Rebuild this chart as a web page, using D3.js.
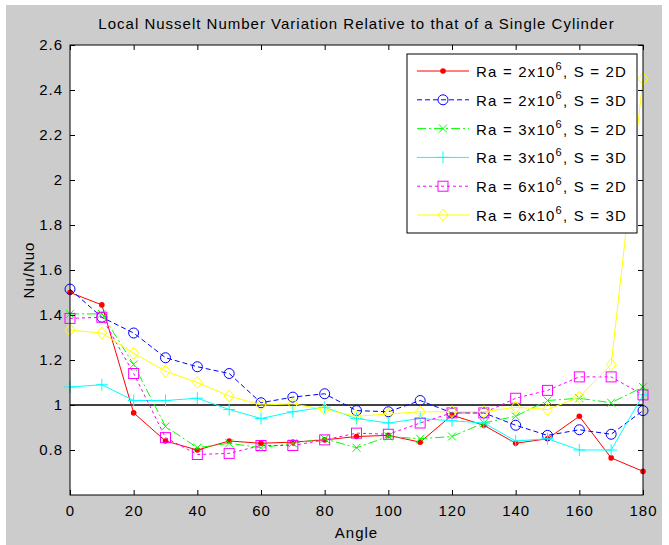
<!DOCTYPE html>
<html>
<head>
<meta charset="utf-8">
<script src="https://cdn.jsdelivr.net/npm/d3@7"></script>
<style>
  body { margin: 0; background: #fff; }
  svg { display: block; font-family: "Liberation Sans", Arial, sans-serif; }
</style>
</head>
<body>
<div id="chart"></div>
<script>
const angles = [0, 10, 20, 30, 40, 50, 60, 70, 80, 90, 100, 110, 120, 130, 140, 150, 160, 170, 180];

const ra2_s2 = [1.50, 1.445, 0.965, 0.84, 0.80, 0.84, 0.83, 0.835, 0.845, 0.86, 0.865, 0.835, 0.955, 0.91, 0.83, 0.85, 0.95, 0.765, 0.705];
const ra2_s3 = [1.515, 1.39, 1.32, 1.21, 1.17, 1.14, 1.01, 1.035, 1.05, 0.975, 0.97, 1.02, 0.965, 0.965, 0.91, 0.865, 0.89, 0.87, 0.975];
const ra3_s2 = [1.405, 1.405, 1.18, 0.905, 0.81, 0.83, 0.81, 0.83, 0.85, 0.81, 0.86, 0.85, 0.86, 0.92, 0.95, 1.02, 1.03, 1.01, 1.08];
const ra3_s3 = [1.08, 1.09, 1.02, 1.02, 1.03, 0.98, 0.94, 0.97, 0.99, 0.94, 0.92, 0.94, 0.93, 0.92, 0.84, 0.85, 0.80, 0.80, 1.045];
const ra6_s2 = [1.385, 1.39, 1.14, 0.855, 0.78, 0.785, 0.82, 0.82, 0.845, 0.875, 0.87, 0.92, 0.965, 0.965, 1.03, 1.065, 1.125, 1.125, 1.045];
const ra6_s3 = [1.333, 1.32, 1.23, 1.15, 1.10, 1.04, 1.00, 1.005, 0.98, 0.95, 0.96, 0.97, 0.97, 0.97, 0.99, 0.98, 1.035, 1.18, 2.45];

const xTicks = [0, 20, 40, 60, 80, 100, 120, 140, 160, 180];
const yTicks = [0.8, 1, 1.2, 1.4, 1.6, 1.8, 2, 2.2, 2.4, 2.6];

const series = [
  { ra: "2", s: "2D", values: ra2_s2, color: "#ff0000", dash: null, marker: "dot" },
  { ra: "2", s: "3D", values: ra2_s3, color: "#0000ff", dash: "5,3", marker: "circle" },
  { ra: "3", s: "2D", values: ra3_s2, color: "#00ff00", dash: "9,3,2,3", marker: "x" },
  { ra: "3", s: "3D", values: ra3_s3, color: "#00ffff", dash: null, marker: "plus" },
  { ra: "6", s: "2D", values: ra6_s2, color: "#ff00ff", dash: "3,3", marker: "square" },
  { ra: "6", s: "3D", values: ra6_s3, color: "#ffff00", dash: null, marker: "diamond" }
];

const W = 669, H = 545;
const margin = { top: 45, right: 26, bottom: 50, left: 70 };
const width = W - margin.left - margin.right;
const height = H - margin.top - margin.bottom;

const svg = d3.select("#chart").append("svg")
  .attr("width", W)
  .attr("height", H);

// grey figure background
svg.append("rect")
  .attr("x", 6).attr("y", 5)
  .attr("width", W - 13).attr("height", H - 5)
  .attr("fill", "#cccccc");

const g = svg.append("g")
  .attr("transform", `translate(${margin.left},${margin.top})`);

const x = d3.scaleLinear().domain([0, 180]).range([0, width]);
const y = d3.scaleLinear().domain([0.6, 2.6]).range([height, 0]);

g.append("rect")
  .attr("width", width).attr("height", height)
  .attr("fill", "#fff");

// reference line at 1
g.append("line")
  .attr("x1", x(0)).attr("x2", x(180))
  .attr("y1", y(1)).attr("y2", y(1))
  .attr("stroke", "#000").attr("stroke-width", 1.5);

const line = d3.line()
  .x((d, i) => x(angles[i]))
  .y(d => y(d));

function drawMarker(sel, type, color) {
  if (type === "dot") {
    sel.append("circle").attr("r", 2.8).attr("fill", color);
  } else if (type === "circle") {
    sel.append("circle").attr("r", 5).attr("fill", "none").attr("stroke", color);
  } else if (type === "square") {
    sel.append("rect").attr("x", -5).attr("y", -5).attr("width", 10).attr("height", 10)
      .attr("fill", "none").attr("stroke", color);
  } else if (type === "diamond") {
    sel.append("path").attr("d", "M0,-6L5,0L0,6L-5,0Z").attr("fill", "none").attr("stroke", color);
  } else if (type === "plus") {
    sel.append("path").attr("d", "M-6,0H6M0,-6V6").attr("stroke", color);
  } else if (type === "x") {
    sel.append("path").attr("d", "M-4,-4L4,4M-4,4L4,-4").attr("stroke", color);
  }
}

series.forEach(s => {
  g.append("path")
    .datum(s.values)
    .attr("d", line)
    .attr("fill", "none")
    .attr("stroke", s.color)
    .attr("stroke-width", 1)
    .attr("stroke-dasharray", s.dash);

  g.selectAll(null)
    .data(s.values)
    .enter().append("g")
    .attr("transform", (d, i) => `translate(${x(angles[i])},${y(d)})`)
    .each(function () { drawMarker(d3.select(this), s.marker, s.color); });
});

// axes: ticks inside on all four sides
const tickLen = 5;
g.append("g")
  .attr("transform", `translate(0,${height})`)
  .call(d3.axisBottom(x).tickValues(xTicks).tickSizeInner(-tickLen).tickSizeOuter(0).tickPadding(10))
  .call(a => a.select(".domain").remove());
g.append("g")
  .call(d3.axisTop(x).tickValues(xTicks).tickSizeInner(-tickLen).tickSizeOuter(0).tickFormat(""))
  .call(a => a.select(".domain").remove());
g.append("g")
  .call(d3.axisLeft(y).tickValues(yTicks).tickSizeInner(-tickLen).tickSizeOuter(0).tickPadding(7)
    .tickFormat(d => d === 1 || d === 2 ? d3.format("d")(d) : d3.format(".1f")(d)))
  .call(a => a.select(".domain").remove());
g.append("g")
  .attr("transform", `translate(${width},0)`)
  .call(d3.axisRight(y).tickValues(yTicks).tickSizeInner(-tickLen).tickSizeOuter(0).tickFormat(""))
  .call(a => a.select(".domain").remove());

g.selectAll(".tick text")
  .attr("font-size", 15)
  .attr("letter-spacing", 1)
  .attr("font-family", "Liberation Sans, Arial, sans-serif")
  .attr("fill", "#000");
g.selectAll(".tick line").attr("stroke", "#000");

g.append("rect")
  .attr("width", width).attr("height", height)
  .attr("fill", "none").attr("stroke", "#000").attr("stroke-width", 1);

// legend
const leg = g.append("g").attr("transform", "translate(337,9)");
leg.append("rect")
  .attr("width", 230).attr("height", 179)
  .attr("fill", "#fff").attr("stroke", "#000");

series.forEach((s, i) => {
  const row = leg.append("g").attr("transform", `translate(0,${17 + i * 28.8})`);
  row.append("line")
    .attr("x1", 10).attr("x2", 62)
    .attr("stroke", s.color)
    .attr("stroke-dasharray", s.dash);
  row.append("g").attr("transform", "translate(36,0)")
    .each(function () { drawMarker(d3.select(this), s.marker, s.color); });
  const t = row.append("text")
    .attr("x", 69).attr("y", 6)
    .attr("font-size", 15)
    .attr("letter-spacing", 1.2)
    .attr("fill", "#000");
  t.append("tspan").text(`Ra = ${s.ra}x10`);
  t.append("tspan").attr("dy", -7).attr("font-size", 11).text("6");
  t.append("tspan").attr("dy", 7).text(`, S = ${s.s}`);
});

// title and axis labels
svg.append("text")
  .attr("x", margin.left + width / 2).attr("y", 29)
  .attr("text-anchor", "middle")
  .attr("font-size", 15)
  .attr("letter-spacing", 1)
  .text("Local Nusselt Number Variation Relative to that of a Single Cylinder");

svg.append("text")
  .attr("x", margin.left + width / 2).attr("y", 538)
  .attr("text-anchor", "middle")
  .attr("font-size", 15)
  .attr("letter-spacing", 1)
  .text("Angle");

svg.append("text")
  .attr("transform", `translate(34,${margin.top + height / 2}) rotate(-90)`)
  .attr("text-anchor", "middle")
  .attr("font-size", 15)
  .attr("letter-spacing", 1)
  .text("Nu/Nuo");
</script>
</body>
</html>
